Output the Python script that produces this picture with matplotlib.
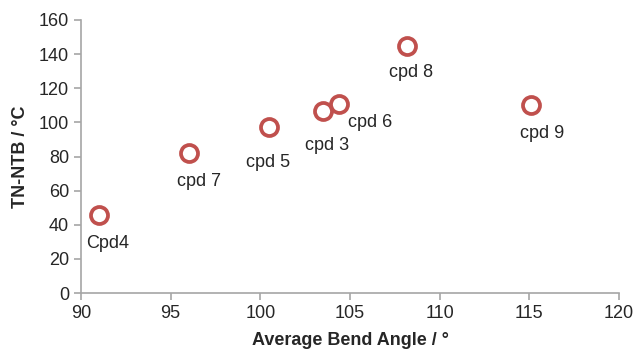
import matplotlib.pyplot as plt

plt.rcParams['font.family'] = ['Liberation Sans', 'DejaVu Sans']

# data
names = ['Cpd4', 'cpd 7', 'cpd 5', 'cpd 3', 'cpd 6', 'cpd 8', 'cpd 9']
bend_angle = [91.0, 96.0, 100.5, 103.5, 104.4, 108.2, 115.1]
tn_ntb = [46, 82, 97, 106.5, 110.5, 145, 110]
# label offsets in pixels (x right, y up)
label_dx = [9, 10, -1, 4, 31, 4, 11]
label_dy = [-29, -28, -35, -34, -18, -27, -28]

fig = plt.figure(figsize=(6.39, 3.5), dpi=100)
ax = fig.add_axes([81 / 639, 1 - 293 / 350, 538 / 639, 273 / 350])

ax.scatter(bend_angle, tn_ntb, s=150, facecolors='white', edgecolors='#C0504D',
           linewidths=2.7, zorder=3)
for n, x, y, dx, dy in zip(names, bend_angle, tn_ntb, label_dx, label_dy):
    ax.annotate(n, (x, y), xytext=(dx, dy), textcoords='offset pixels',
                ha='center', va='center', fontsize=13, color='#262626')

ax.set_xlim(90, 120)
ax.set_ylim(0, 160)
ax.set_xticks(range(90, 121, 5))
ax.set_yticks(range(0, 161, 20))
for s in ['top', 'right']:
    ax.spines[s].set_visible(False)
for s in ['left', 'bottom']:
    ax.spines[s].set_color('#A6A6A6')
    ax.spines[s].set_linewidth(1.2)
ax.tick_params(colors='#A6A6A6', labelcolor='#262626', labelsize=13,
               length=5, width=1.2)
ax.set_xlabel('Average Bend Angle / °', fontsize=13, fontweight='bold',
              color='#262626', labelpad=7)
ax.set_ylabel('TN-NTB / °C', fontsize=13, fontweight='bold',
              color='#262626', labelpad=7)

plt.savefig('out.png', dpi=100)
